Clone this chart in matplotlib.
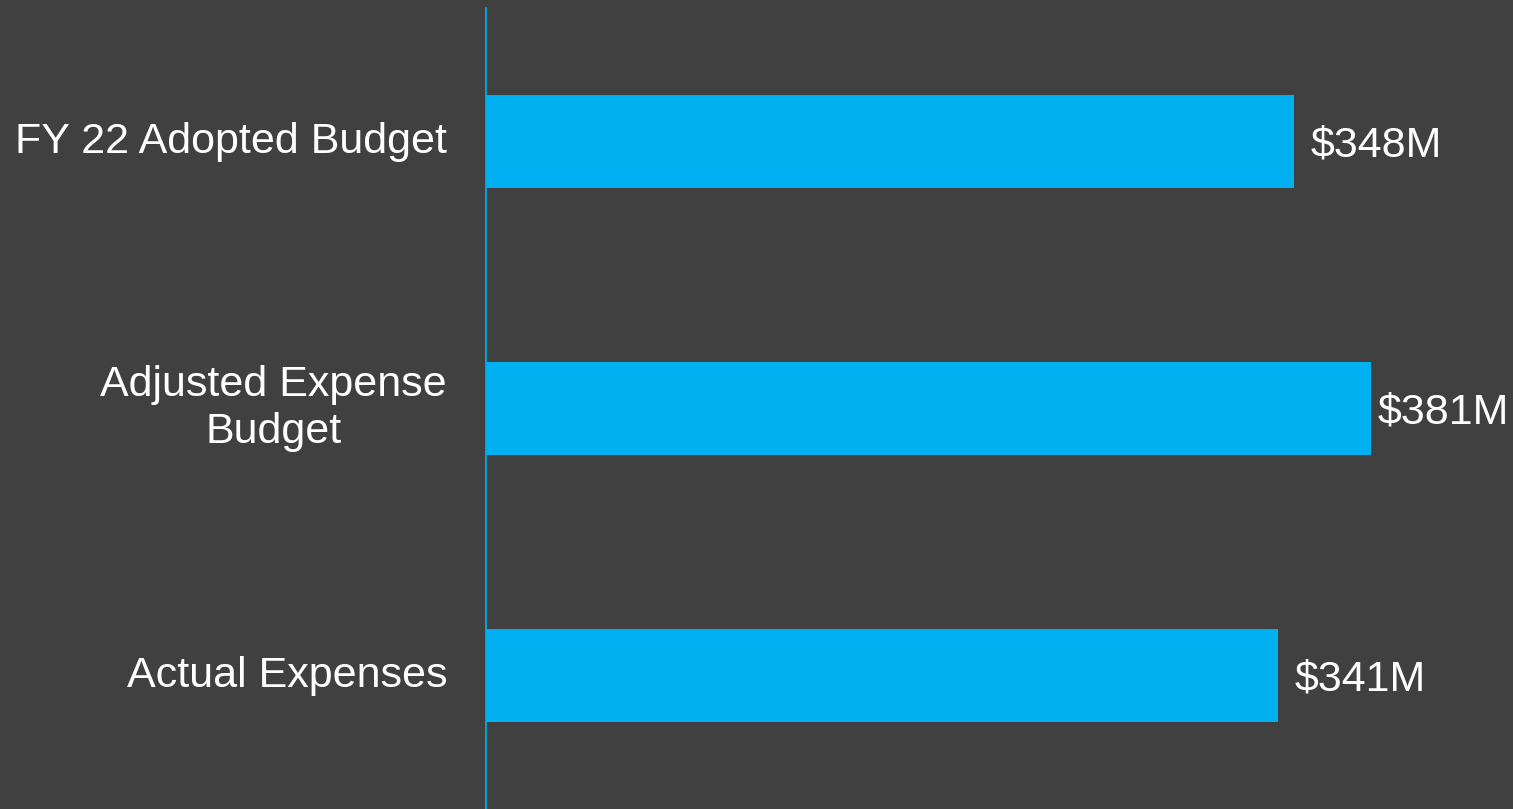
import matplotlib.pyplot as plt

# Data
categories = ['FY 22 Adopted Budget', 'Adjusted Expense\nBudget', 'Actual Expenses']
values = [348, 381, 341]
value_labels = ['$348M', '$381M', '$341M']

bg = '#404040'
bar_color = '#00B0F0'

plt.rcParams['font.family'] = ['Liberation Sans', 'DejaVu Sans']

fig = plt.figure(figsize=(15.13, 8.09), dpi=100, facecolor=bg)
ax = fig.add_axes([486 / 1513, 0, 1027 / 1513, 801 / 809])
ax.set_facecolor(bg)

y = range(len(categories))
ax.barh(y, values, height=0.35, color=bar_color)
ax.set_ylim(2.5, -0.5)
ax.set_xlim(0, 1027 / 2.322)

# value labels at bar ends (longest bar's label is pulled in to fit the frame)
for i, (v, lab) in enumerate(zip(values, value_labels)):
    pad = 5 if v == max(values) else 12
    ax.annotate(lab, xy=(v, i), xytext=(pad, -10.8), textcoords='offset points',
                va='baseline', ha='left', color='white', fontsize=31)

# category labels left of the axis
for i, cat in enumerate(categories):
    dy = -24.5 if '\n' in cat else -8.6
    ax.annotate(cat, xy=(0, i), xycoords=('axes fraction', 'data'),
                xytext=(-28, dy), textcoords='offset points',
                va='baseline', ha='right', multialignment='center',
                linespacing=1.2, color='white', fontsize=31)

ax.set_yticks([])
ax.set_xticks([])

for s in ['top', 'right', 'bottom']:
    ax.spines[s].set_visible(False)
ax.spines['left'].set_color(bar_color)
ax.spines['left'].set_linewidth(1.2)

fig.savefig('out.png', dpi=100, facecolor=bg)
